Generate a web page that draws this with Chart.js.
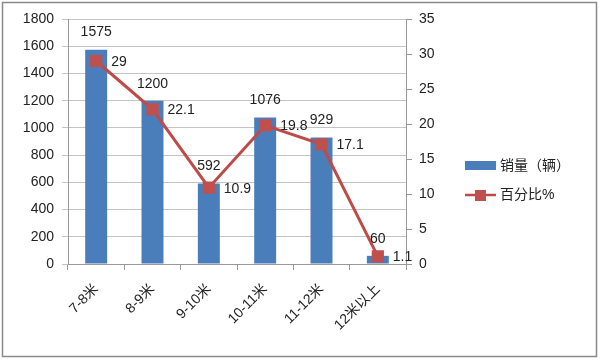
<!DOCTYPE html>
<html>
<head>
<meta charset="utf-8">
<script src="https://cdn.jsdelivr.net/npm/chart.js@4"></script>
<style>
  html, body { margin: 0; padding: 0; background: #fff; }
  #wrap { width: 600px; height: 360px; }
</style>
</head>
<body>
<div id="wrap"><canvas id="c" width="600" height="360"></canvas></div>
<script>
const categories = ['7-8米', '8-9米', '9-10米', '10-11米', '11-12米', '12米以上'];
const sales = [1575, 1200, 592, 1076, 929, 60];
const percents = [29, 22.1, 10.9, 19.8, 17.1, 1.1];
const salesLabel = '销量（辆）';
const percentLabel = '百分比%';

const FONT = '"Liberation Sans", Arial, "Noto Sans CJK SC", sans-serif';

// value labels, legend and frame
const extras = {
  id: 'extras',
  beforeDraw(chart) {
    const ctx = chart.ctx;
    ctx.save();
    ctx.fillStyle = '#fff';
    ctx.fillRect(0, 0, 600, 360);
    ctx.strokeStyle = '#8a8a8a';
    ctx.lineWidth = 1.5;
    ctx.strokeRect(2.5, 2.5, 594, 354);
    ctx.restore();
  },
  afterDatasetsDraw(chart) {
    const ctx = chart.ctx;
    ctx.save();
    ctx.font = '14px ' + FONT;
    ctx.fillStyle = '#222';
    const bars = chart.getDatasetMeta(1).data;
    ctx.textAlign = 'center';
    ctx.textBaseline = 'bottom';
    bars.forEach((b, i) => ctx.fillText(String(sales[i]), b.x, b.y - 10));
    const pts = chart.getDatasetMeta(0).data;
    ctx.textAlign = 'left';
    ctx.textBaseline = 'middle';
    pts.forEach((p, i) => ctx.fillText(String(percents[i]), p.x + 15, p.y + 1));

    // legend
    ctx.fillStyle = '#4A7EBB';
    ctx.fillRect(465, 161, 31, 9);
    ctx.fillStyle = '#222';
    ctx.fillText(salesLabel, 500, 166);
    ctx.strokeStyle = '#BE4B48';
    ctx.lineWidth = 2.5;
    ctx.beginPath();
    ctx.moveTo(465, 195);
    ctx.lineTo(496, 195);
    ctx.stroke();
    ctx.fillStyle = '#C0504D';
    ctx.fillRect(475, 190, 11, 11);
    ctx.fillStyle = '#222';
    ctx.fillText(percentLabel, 500, 195);
    ctx.restore();
  }
};

new Chart(document.getElementById('c'), {
  data: {
    labels: categories,
    datasets: [
      {
        type: 'line',
        label: percentLabel,
        data: percents,
        yAxisID: 'y2',
        borderColor: '#BE4B48',
        borderWidth: 3,
        pointStyle: 'rect',
        pointRadius: 6.5,
        pointBackgroundColor: '#C0504D',
        pointBorderColor: '#C0504D',
        tension: 0,
        order: 0
      },
      {
        type: 'bar',
        label: salesLabel,
        data: sales,
        yAxisID: 'y',
        backgroundColor: '#4A7EBB',
        categoryPercentage: 1,
        barPercentage: 0.39,
        order: 1
      }
    ]
  },
  options: {
    responsive: false,
    animation: false,
    layout: { padding: { top: 19, left: 0, right: 0, bottom: 0 } },
    plugins: { legend: { display: false }, tooltip: { enabled: false } },
    scales: {
      x: {
        grid: { display: true, drawOnChartArea: false, offset: true, color: '#999', tickLength: 6 },
        border: { color: '#999' },
        ticks: { font: { size: 14, family: FONT }, color: '#222', minRotation: 45, maxRotation: 45, padding: 11 },
        afterFit(s) { s.height = 96; }
      },
      y: {
        position: 'left',
        min: 0, max: 1800,
        ticks: { stepSize: 200, font: { size: 14, family: FONT }, color: '#222', padding: 8, callback: v => String(v) },
        grid: { color: '#c4c4c4', tickLength: 6 },
        border: { color: '#999' },
        afterFit(s) { s.width = 68; }
      },
      y2: {
        position: 'right',
        min: 0, max: 35,
        ticks: { stepSize: 5, font: { size: 14, family: FONT }, color: '#222', padding: 7, callback: v => String(v) },
        grid: { drawOnChartArea: false, color: '#999', tickLength: 6 },
        border: { color: '#999' },
        afterFit(s) { s.width = 194; }
      }
    }
  },
  plugins: [extras]
});
</script>
</body>
</html>
